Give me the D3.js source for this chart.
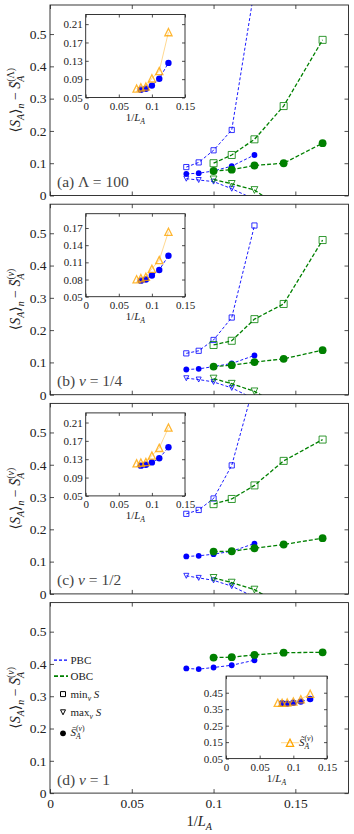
<!DOCTYPE html>
<html>
<head>
<meta charset="utf-8">
<script src="https://cdn.jsdelivr.net/npm/d3@7"></script>
<style>
body { margin: 0; background: #fff; }
svg { display: block; font-family: "Liberation Serif", "DejaVu Serif", serif; }
</style>
</head>
<body>
<script>
// subsystem sizes L_A (x axis is 1/L_A)
const pbcL = [12, 11, 10, 9, 8];
const obcL = [10, 9, 8, 7, 6];
const insL = [13, 12, 11, 10, 9, 8];

// (a) Lambda = 100
const pbcMinA  = [0.088, 0.1025, 0.140, 0.203, 0.64];
const pbcMaxA  = [0.052, 0.048, 0.043, 0.021, -0.012];
const pbcMeanA = [0.067, 0.069, 0.076, 0.091, 0.1255];
const obcMinA  = [0.100, 0.1255, 0.174, 0.277, 0.482];
const obcMaxA  = [0.050, 0.036, 0.017, -0.045, -0.10];
const obcMeanA = [0.076, 0.080, 0.093, 0.100, 0.162];
const tildeA   = [0.0697, 0.072, 0.074, 0.0916, 0.1077, 0.1925];

// (b) nu = 1/4
const pbcMinB  = [0.128, 0.136, 0.1695, 0.239, 0.524];
const pbcMaxB  = [0.051, 0.047, 0.0395, 0.021, -0.0135];
const pbcMeanB = [0.078, 0.080, 0.087, 0.0967, 0.1216];
const obcMinB  = [0.154, 0.167, 0.234, 0.281, 0.479];
const obcMaxB  = [0.050, 0.034, 0.0104, -0.04, -0.09];
const obcMeanB = [0.087, 0.0915, 0.101, 0.111, 0.138];
const tildeB   = [0.0806, 0.0824, 0.0847, 0.0988, 0.114, 0.1635];

// (c) nu = 1/2
const pbcMinC  = [0.248, 0.260, 0.2955, 0.398, 0.654];
const pbcMaxC  = [0.056, 0.0496, 0.042, 0.024, -0.01];
const pbcMeanC = [0.116, 0.118, 0.123, 0.132, 0.156];
const obcMinC  = [0.278, 0.294, 0.336, 0.412, 0.478];
const obcMaxC  = [0.0496, 0.035, 0.0134, -0.04, -0.09];
const obcMeanC = [0.131, 0.132, 0.1415, 0.153, 0.1725];
const tildeC   = [0.121, 0.1225, 0.124, 0.138, 0.1547, 0.199];

// (d) nu = 1
const pbcMeanD = [0.386, 0.384, 0.389, 0.396, 0.4115];
const obcMeanD = [0.4198, 0.421, 0.428, 0.435, 0.436];
const tildeD   = [0.389, 0.389, 0.391, 0.397, 0.41, 0.444];

// tick values
const mainXTicks = [0, 0.05, 0.1, 0.15];
const mainYTicks = [0, 0.1, 0.2, 0.3, 0.4, 0.5];
const insXTicks = [0, 0.05, 0.1, 0.15];
const insYTicksAC = [0.05, 0.09, 0.13, 0.17, 0.21];
const insYTicksB = [0.05, 0.08, 0.11, 0.14, 0.17];
const insYTicksD = [0.05, 0.15, 0.25, 0.35, 0.45];

const BLUE = '#0000ff', GREEN = '#008000', ORANGE = '#ffa500', INK = '#222';
const fmt = d => String(+d.toFixed(2));

const svg = d3.select('body').append('svg')
    .attr('width', 354)
    .attr('height', 834);

const x = d3.scaleLinear().domain([0, 0.1825]).range([50, 348.5]);
const H = 190.5;

// text with italic / sub / sup pieces
function mathText(sel, parts, size) {
  const t = sel.append('text').attr('font-size', size).attr('fill', INK);
  let cur = 0, lastW = 0;
  parts.forEach(p => {
    const shift = p.k === 'sub' ? 0.3 * size : p.k === 'sup' ? -0.42 * size : 0;
    const ts = t.append('tspan').text(p.t)
        .attr('dy', shift - cur)
        .attr('font-size', p.k ? size * 0.7 : size)
        .attr('font-style', p.i ? 'italic' : 'normal');
    if (p.stack) ts.attr('dx', -lastW);
    cur = shift;
    lastW = ts.node().getComputedTextLength();
  });
  return t;
}

const sq = s => `M${-s/2},${-s/2}H${s/2}V${s/2}H${-s/2}Z`;
const triDown = s => `M${-s/2},${-s/2}H${s/2}L0,${s/2}Z`;
const triUp = s => `M${-s/2},${s/2}H${s/2}L0,${-s/2}Z`;

function series(g, sx, sy, Ls, vals, color, lw, dash, mark) {
  const pts = Ls.map((L, i) => [1 / L, vals[i]]);
  g.append('path')
      .attr('d', d3.line().x(d => sx(d[0])).y(d => sy(d[1]))(pts))
      .attr('fill', 'none')
      .attr('stroke', color)
      .attr('stroke-width', lw)
      .attr('stroke-dasharray', dash)
      .attr('stroke-opacity', mark.lineOpacity || 1);
  g.selectAll(null).data(pts).enter()
    .append(mark.r ? 'circle' : 'path')
      .attr('transform', d => mark.r ? null : `translate(${sx(d[0])},${sy(d[1])})`)
      .attr('cx', d => mark.r ? sx(d[0]) : null)
      .attr('cy', d => mark.r ? sy(d[1]) : null)
      .attr('r', mark.r || null)
      .attr('d', mark.shape || null)
      .attr('fill', mark.r ? color : 'none')
      .attr('stroke', mark.r ? 'none' : color)
      .attr('stroke-width', mark.sw || 1)
      .attr('stroke-opacity', 0.8);
}

function frameAxes(g, sx, sy, x0, x1, y0, y1, xt, yt, size, tick, showX, pad) {
  g.append('g').attr('transform', `translate(0,${y1})`)
    .call(d3.axisBottom(sx).tickValues(xt).tickSize(-tick).tickSizeOuter(0)
      .tickPadding(pad + 1.5).tickFormat(showX ? fmt : ''));
  g.append('g').attr('transform', `translate(0,${y0})`)
    .call(d3.axisTop(sx).tickValues(xt).tickSize(-tick).tickSizeOuter(0).tickFormat(''));
  g.append('g').attr('transform', `translate(${x0},0)`)
    .call(d3.axisLeft(sy).tickValues(yt).tickSize(-tick).tickSizeOuter(0)
      .tickPadding(pad).tickFormat(fmt));
  g.append('g').attr('transform', `translate(${x1},0)`)
    .call(d3.axisRight(sy).tickValues(yt).tickSize(-tick).tickSizeOuter(0).tickFormat(''));
  g.selectAll('.domain').remove();
  g.selectAll('.tick line').attr('stroke', INK).attr('stroke-width', 0.8);
  g.selectAll('.tick text').attr('font-size', size).attr('fill', INK)
      .attr('font-family', '"Liberation Serif", serif');
  g.append('rect')
      .attr('x', x0).attr('y', y0)
      .attr('width', x1 - x0).attr('height', y1 - y0)
      .attr('fill', 'none').attr('stroke', INK).attr('stroke-width', 0.9);
}

const panels = [
  {lab: [{t: '(a) Λ = 100'}], sym: [{t: '(Λ)', k: 'sup', stack: true}],
   pbc: [pbcMinA, pbcMaxA, pbcMeanA], obc: [obcMinA, obcMaxA, obcMeanA],
   mean: pbcMeanA, tilde: tildeA, iy: [0.05, 0.231], iyt: insYTicksAC, box: [85.7, 185, 9.5, 92.5]},
  {lab: [{t: '(b) '}, {t: 'ν', i: true}, {t: ' = 1/4'}], sym: 'nu',
   pbc: [pbcMinB, pbcMaxB, pbcMeanB], obc: [obcMinB, obcMaxB, obcMeanB],
   mean: pbcMeanB, tilde: tildeB, iy: [0.05, 0.195], iyt: insYTicksB, box: [85.7, 185, 9.5, 92.5]},
  {lab: [{t: '(c) '}, {t: 'ν', i: true}, {t: ' = 1/2'}], sym: 'nu',
   pbc: [pbcMinC, pbcMaxC, pbcMeanC], obc: [obcMinC, obcMaxC, obcMeanC],
   mean: pbcMeanC, tilde: tildeC, iy: [0.05, 0.231], iyt: insYTicksAC, box: [85.7, 185, 9.5, 92.5]},
  {lab: [{t: '(d) '}, {t: 'ν', i: true}, {t: ' = 1'}], sym: 'nu',
   pbc: [null, null, pbcMeanD], obc: [null, null, obcMeanD],
   mean: pbcMeanD, tilde: tildeD, iy: [0.05, 0.551], iyt: insYTicksD, box: [226, 327, 73.5, 156]}
];

const nuSup = [{t: '(', k: 'sup', stack: true}, {t: 'ν', k: 'sup', i: true}, {t: ')', k: 'sup'}];

panels.forEach((p, i) => {
  const top = 5 + i * 199.2, bot = top + H;
  const y = d3.scaleLinear().domain([0, 0.59]).range([bot, top]);
  const g = svg.append('g');

  const clipId = 'clip' + i;
  svg.append('clipPath').attr('id', clipId)
    .append('rect').attr('x', x.range()[0]).attr('y', top)
    .attr('width', x.range()[1] - x.range()[0]).attr('height', H);
  const data = g.append('g').attr('clip-path', `url(#${clipId})`);

  [['pbc', pbcL, BLUE, 0.9, '3,2', 1], ['obc', obcL, GREEN, 1.3, '4,2', 1.35]].forEach(([key, Ls, c, lw, dash, k]) => {
    const [mn, mx, me] = p[key];
    if (mn) series(data, x, y, Ls, mn, c, lw, dash, {shape: sq(5.2 * k), sw: 1});
    if (mx) series(data, x, y, Ls, mx, c, lw, dash, {shape: triDown(5 * k), sw: 1});
    series(data, x, y, Ls, me, c, lw, dash, {r: 2.9 * k});
  });

  frameAxes(g, x, y, x.range()[0], x.range()[1], top, bot, mainXTicks, mainYTicks, 13.5, 4, i === 3, 3.5);

  // y label
  const sup = p.sym === 'nu' ? nuSup : p.sym;
  mathText(g, [{t: '⟨'}, {t: 'S', i: true}, {t: 'A', k: 'sub', i: true}, {t: '⟩'},
      {t: 'n', k: 'sub', i: true}, {t: ' − '}, {t: 'S\u0304', i: true},
      {t: 'A', k: 'sub', i: true}].concat(sup), 14)
    .attr('text-anchor', 'middle')
    .attr('transform', `translate(20,${(top + bot) / 2}) rotate(-90)`);

  // panel tag
  mathText(g, p.lab, 15.5).attr('x', 57).attr('y', top + 182).attr('fill', '#444');

  // inset
  const [bx0, bx1, by0, by1] = p.box;
  const iy0 = top + by0, iy1 = top + by1;
  const ix = d3.scaleLinear().domain([0, 0.15]).range([bx0, bx1]);
  const iy = d3.scaleLinear().domain(p.iy).range([iy1, iy0]);
  const ig = svg.append('g');
  ig.append('rect').attr('x', bx0).attr('y', iy0)
    .attr('width', bx1 - bx0).attr('height', iy1 - iy0).attr('fill', '#fff');
  svg.append('clipPath').attr('id', 'iclip' + i)
    .append('rect').attr('x', bx0).attr('y', iy0)
    .attr('width', bx1 - bx0).attr('height', iy1 - iy0);
  const idata = ig.append('g').attr('clip-path', `url(#iclip${i})`);
  series(idata, ix, iy, pbcL, p.mean, BLUE, 0.9, '3,2', {r: 3.2});
  series(idata, ix, iy, insL, p.tilde, ORANGE, 0.8, null, {shape: triUp(7.2), sw: 1.3, lineOpacity: 0.55});
  frameAxes(ig, ix, iy, bx0, bx1, iy0, iy1, insXTicks, p.iyt, 11, 3, true, 3);
  mathText(ig, [{t: '1/'}, {t: 'L', i: true}, {t: 'A', k: 'sub', i: true}], 11)
    .attr('text-anchor', 'middle')
    .attr('x', (bx0 + bx1) / 2).attr('y', iy1 + 23);

  if (i === 3) {
    // inset legend
    ig.append('line').attr('x1', 281).attr('x2', 299).attr('y1', 742.7).attr('y2', 742.7)
      .attr('stroke', ORANGE).attr('stroke-width', 0.8).attr('stroke-opacity', 0.55);
    ig.append('path').attr('d', triUp(7.2)).attr('transform', 'translate(290,742.7)')
      .attr('fill', 'none').attr('stroke', ORANGE).attr('stroke-width', 1.3);
    mathText(ig, [{t: 'S\u0303', i: true}, {t: 'A', k: 'sub', i: true}].concat(nuSup), 11)
      .attr('x', 299).attr('y', 746);

    // main legend
    const lg = svg.append('g');
    [[BLUE, 0.9, '3,2', top + 57.5, 'PBC'], [GREEN, 1.3, '4,2', top + 73.5, 'OBC']].forEach(([c, lw, dash, yy, txt]) => {
      lg.append('line').attr('x1', 54).attr('x2', 68).attr('y1', yy).attr('y2', yy)
        .attr('stroke', c).attr('stroke-width', lw + 0.4).attr('stroke-dasharray', dash);
      mathText(lg, [{t: txt}], 11).attr('x', 70.5).attr('y', yy + 3.8);
    });
    lg.append('path').attr('d', sq(5)).attr('transform', `translate(63,${top + 91.5})`)
      .attr('fill', 'none').attr('stroke', '#000').attr('stroke-width', 1);
    mathText(lg, [{t: 'min'}, {t: 'ν', k: 'sub', i: true}, {t: ' '}, {t: 'S', i: true}], 11)
      .attr('x', 70.5).attr('y', top + 95.3);
    lg.append('path').attr('d', triDown(5)).attr('transform', `translate(63,${top + 109.7})`)
      .attr('fill', 'none').attr('stroke', '#000').attr('stroke-width', 1);
    mathText(lg, [{t: 'max'}, {t: 'ν', k: 'sub', i: true}, {t: ' '}, {t: 'S', i: true}], 11)
      .attr('x', 70.5).attr('y', top + 113.5);
    lg.append('circle').attr('cx', 63).attr('cy', top + 130.7).attr('r', 2.9).attr('fill', '#000');
    mathText(lg, [{t: 'S\u0304', i: true}, {t: 'A', k: 'sub', i: true}].concat(nuSup), 11)
      .attr('x', 70.5).attr('y', top + 133.5);

    // x label
    mathText(g, [{t: '1/'}, {t: 'L', i: true}, {t: 'A', k: 'sub', i: true}], 14.5)
      .attr('text-anchor', 'middle')
      .attr('x', (x.range()[0] + x.range()[1]) / 2).attr('y', 826);
  }
});
</script>
</body>
</html>
